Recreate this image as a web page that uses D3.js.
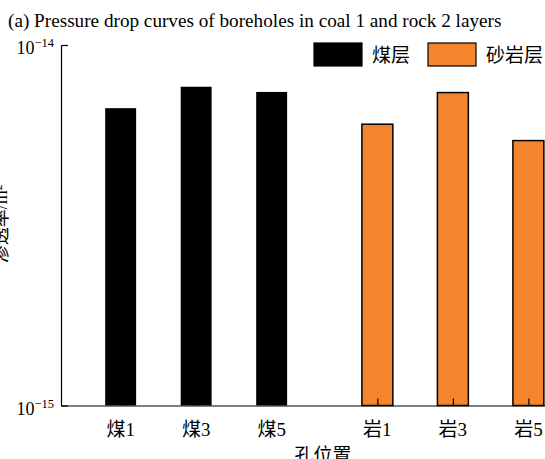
<!DOCTYPE html>
<html>
<head>
<meta charset="utf-8">
<script src="https://cdn.jsdelivr.net/npm/d3@7"></script>
<style>
  html, body { margin: 0; padding: 0; background: #fff; }
  svg { display: block; }
  text { font-family: "Liberation Serif", "Noto Sans CJK SC", serif; fill: #000; }
</style>
</head>
<body>
<svg id="chart" width="545" height="459"></svg>
<script>
// Borehole permeability (m²) by borehole position
const categories = ["煤1", "煤3", "煤5", "岩1", "岩3", "岩5"];
const groups     = ["coal", "coal", "coal", "rock", "rock", "rock"];
const positions  = [1, 2, 3, 4.4, 5.4, 6.4];
const permeability = [6.68e-15, 7.66e-15, 7.41e-15, 6.03e-15, 7.38e-15, 5.43e-15];
const legendLabels = ["煤层", "砂岩层"];
const yTickValues = [1e-15, 1e-14];
const yTickExponents = ["−15", "−14"];

const colors = { coal: "#000000", rock: "#F3852E" };

const svg = d3.select("#chart");
const plotLeft = 61, plotRight = 545, plotTop = 45, plotBottom = 405.5;

const x = d3.scaleLinear().domain([0.21, 6.62]).range([plotLeft, plotRight]);
const y = d3.scaleLog().domain([1e-15, 1e-14]).range([plotBottom, plotTop]);
const barW = x(1.41) - x(1);

// Title
svg.append("text")
  .attr("x", 8).attr("y", 27)
  .attr("font-size", 19.2)
  .text("(a) Pressure drop curves of boreholes in coal 1 and rock 2 layers");

// Bars
svg.append("g").selectAll("rect")
  .data(categories)
  .join("rect")
  .attr("x", (d, i) => x(positions[i]) - barW / 2)
  .attr("y", (d, i) => y(permeability[i]))
  .attr("width", barW)
  .attr("height", (d, i) => y(1e-15) - y(permeability[i]))
  .attr("fill", (d, i) => colors[groups[i]])
  .attr("stroke", "#000")
  .attr("stroke-width", (d, i) => groups[i] === "rock" ? 1.5 : 0);

// Axes: left spine with inward ticks, bottom spine with inward ticks
const yAxis = d3.axisLeft(y).tickValues(yTickValues).tickSizeInner(-7).tickSizeOuter(0).tickFormat("");
const gy = svg.append("g").attr("transform", `translate(${plotLeft},0)`).call(yAxis);
gy.select(".domain").attr("stroke-width", 1.2);
gy.selectAll(".tick line").attr("stroke-width", 1.2);

const xAxis = d3.axisBottom(x).tickValues(positions).tickSizeInner(-7).tickSizeOuter(0).tickFormat("");
const gx = svg.append("g").attr("transform", `translate(0,${plotBottom})`).call(xAxis);
gx.select(".domain").attr("stroke-width", 1.2);
gx.selectAll(".tick line").attr("stroke-width", 1.2);

// Y tick labels as 10 with superscript exponent
yTickValues.forEach((v, i) => {
  const t = svg.append("text")
    .attr("x", 54).attr("y", y(v) + 9)
    .attr("text-anchor", "end")
    .attr("font-size", 18);
  t.append("tspan").text("10");
  t.append("tspan").attr("dy", -7).attr("font-size", 12.5).text(yTickExponents[i]);
});

// X tick labels
svg.append("g").selectAll("text")
  .data(categories)
  .join("text")
  .attr("x", (d, i) => x(positions[i]))
  .attr("y", 436)
  .attr("text-anchor", "middle")
  .attr("font-size", 19)
  .text(d => d);

// Axis titles
svg.append("text")
  .attr("x", 323).attr("y", 462)
  .attr("text-anchor", "middle")
  .attr("font-size", 19)
  .text("孔位置");

svg.append("text")
  .attr("transform", "translate(7,224) rotate(-90)")
  .attr("text-anchor", "middle")
  .attr("font-size", 18)
  .text("渗透率/m²");

// Legend
const legend = svg.append("g");
const legendItems = [
  { label: legendLabels[0], color: colors.coal, x: 314 },
  { label: legendLabels[1], color: colors.rock, x: 428 }
];
legendItems.forEach(it => {
  legend.append("rect")
    .attr("x", it.x).attr("y", 43)
    .attr("width", 48).attr("height", 23)
    .attr("fill", it.color)
    .attr("stroke", "#000").attr("stroke-width", 1.2);
  legend.append("text")
    .attr("x", it.x + 58).attr("y", 62)
    .attr("font-size", 19)
    .text(it.label);
});
</script>
</body>
</html>
